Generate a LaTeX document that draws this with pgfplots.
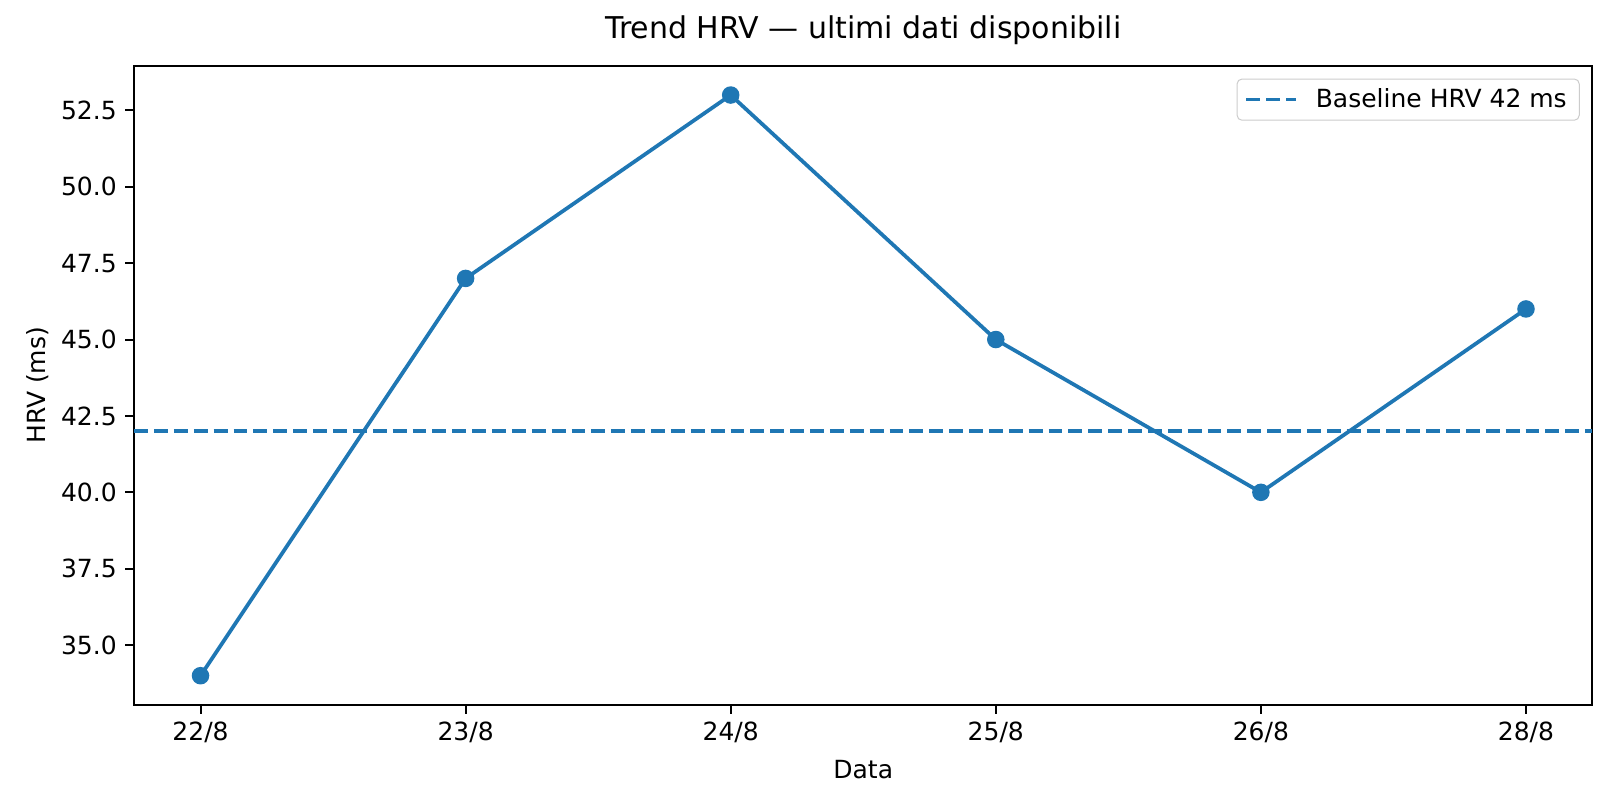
\documentclass[border=0pt]{standalone}
\usepackage{pgfplots}
\pgfplotsset{compat=1.18}
\usepackage{fontspec}
\setmainfont{DejaVu Sans}
\definecolor{tabblue}{HTML}{1F77B4}
\begin{document}
\begin{tikzpicture}
\path[use as bounding box] (-53.7pt,-42.1pt) rectangle (594.3pt,281.9pt);
\begin{axis}[
    at={(0,0)}, anchor=south west,
    scale only axis,
    width=583.2pt, height=255.5pt,
    xmin=-0.25, xmax=5.25,
    ymin=33.05, ymax=53.95,
    xtick={0,1,2,3,4,5},
    xticklabels={22/8,23/8,24/8,25/8,26/8,28/8},
    ytick={35,37.5,40,42.5,45,47.5,50,52.5},
    yticklabel style={/pgf/number format/.cd, fixed, fixed zerofill, precision=1},
    /pgf/number format/assume math mode=true,
    tick align=outside, tick pos=left,
    major tick length=3.5pt,
    every tick/.style={black, line width=0.8pt},
    axis line style={line width=0.8pt},
    font=\fontsize{10}{12}\selectfont,
    ticklabel style={font=\fontsize{10}{12}\selectfont},
    xlabel={Data}, ylabel={HRV (ms)},
    ylabel style={yshift=-2pt},
    title={Trend HRV — ultimi dati disponibili},
    title style={font=\fontsize{12}{14}\selectfont, yshift=-1pt},
    legend style={at={(1,1)}, anchor=north east, xshift=-5pt, yshift=-5pt,
        draw=black!20, rounded corners=2pt, fill=white, fill opacity=0.8,
        text opacity=1, font=\fontsize{10}{12}\selectfont,
        inner xsep=3pt, inner ysep=1.7pt,
        /tikz/every odd column/.append style={column sep=5pt}},
    legend cell align=left,
    legend image code/.code={\draw[#1] (0pt,0pt) -- (20pt,0pt);},
]
\addplot[color=tabblue, line width=1.5pt, mark=*, mark size=3pt, mark options={solid, line width=1pt}, forget plot] coordinates {
    (0,34) (1,47) (2,53) (3,45) (4,40) (5,46)
};
\addplot[color=tabblue, line width=1.5pt, dash pattern=on 5.55pt off 2.4pt] coordinates {
    (-0.25,42) (5.25,42)
};
\addlegendentry{Baseline HRV 42 ms}
\end{axis}
\end{tikzpicture}
\end{document}
